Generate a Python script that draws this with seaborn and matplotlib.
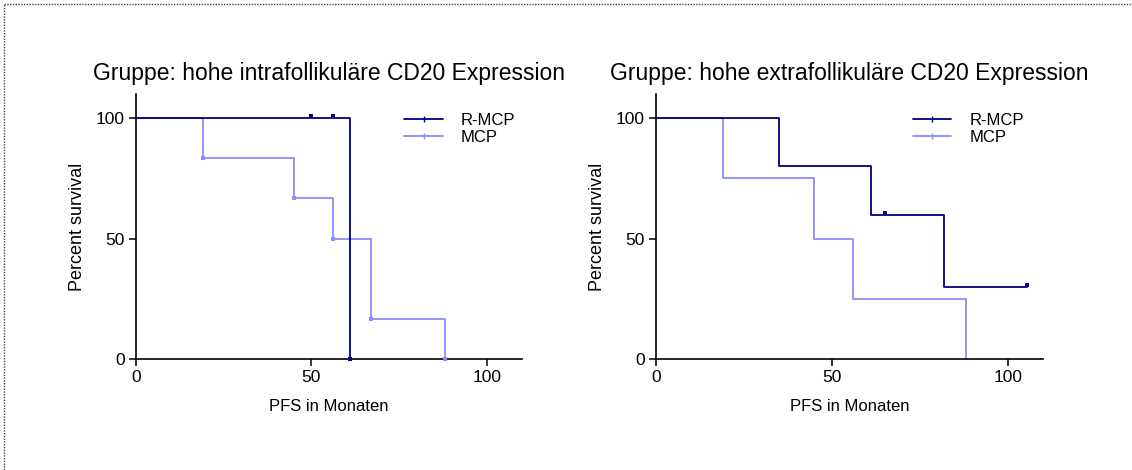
import matplotlib
matplotlib.use("Agg")
import matplotlib.pyplot as plt
import seaborn as sns
import pandas as pd
from matplotlib.lines import Line2D

# ---- data ----
titles = ["Gruppe: hohe intrafollikuläre CD20 Expression",
          "Gruppe: hohe extrafollikuläre CD20 Expression"]
groups = ["R-MCP", "MCP"]

# left panel
l_rmcp_t = [0, 50, 56, 61]
l_rmcp_s = [100, 100, 100, 0]
l_rmcp_cens_t = [50, 56]
l_rmcp_cens_s = [100, 100]
l_rmcp_evt_t = [61]
l_rmcp_evt_s = [0]

l_mcp_t = [0, 19, 45, 56, 67, 88]
l_mcp_s = [100, 83.3, 66.7, 50, 16.7, 0]

# right panel
r_rmcp_t = [0, 35, 61, 65, 82, 105.5]
r_rmcp_s = [100, 80, 60, 60, 30, 30]
r_rmcp_cens_t = [65, 105.5]
r_rmcp_cens_s = [60, 30]

r_mcp_t = [0, 19, 45, 56, 88]
r_mcp_s = [100, 75, 50, 25, 0]

x_ticks = [0, 50, 100]
y_ticks = [0, 50, 100]
x_label = "PFS in Monaten"
y_label = "Percent survival"

DARK = "#000080"
LIGHT = "#8C8CFF"

sns.set_style("ticks")
plt.rcParams["font.family"] = ["Liberation Sans", "DejaVu Sans"]
plt.rcParams["text.color"] = "black"
plt.rcParams["axes.labelcolor"] = "black"

fig = plt.figure(figsize=(11.32, 4.70), dpi=100)
W, H = 1132, 470
ax_h = (359.3 - 94) / H
ax_b = (470 - 359.3) / H
axes = [fig.add_axes([136 / W, ax_b, 386 / W, ax_h]),
        fig.add_axes([656 / W, ax_b, 387 / W, ax_h])]

panels = [
    dict(rt=l_rmcp_t, rs=l_rmcp_s, mt=l_mcp_t, ms=l_mcp_s,
         ct=l_rmcp_cens_t, cs=l_rmcp_cens_s, mark_mcp=True,
         et=l_rmcp_evt_t, es=l_rmcp_evt_s, leg_x=0.678),
    dict(rt=r_rmcp_t, rs=r_rmcp_s, mt=r_mcp_t, ms=r_mcp_s,
         ct=r_rmcp_cens_t, cs=r_rmcp_cens_s, mark_mcp=False,
         et=[], es=[], leg_x=0.647),
]

for ax, p, title in zip(axes, panels, titles):
    df_r = pd.DataFrame({"t": p["rt"], "s": p["rs"]})
    df_m = pd.DataFrame({"t": p["mt"], "s": p["ms"]})
    sns.lineplot(data=df_m, x="t", y="s", ax=ax, color=LIGHT, lw=1.3,
                 drawstyle="steps-post", sort=False, estimator=None, label=groups[1])
    sns.lineplot(data=df_r, x="t", y="s", ax=ax, color=DARK, lw=1.3,
                 drawstyle="steps-post", sort=False, estimator=None, label=groups[0])
    # censor marks
    sns.scatterplot(x=p["ct"], y=[v + 0.8 for v in p["cs"]], ax=ax, color=DARK,
                    marker="s", s=8, linewidth=0, zorder=5)
    if p["et"]:
        sns.scatterplot(x=p["et"], y=p["es"], ax=ax, color=DARK,
                        marker="s", s=8, linewidth=0, zorder=5, clip_on=False)
    if p["mark_mcp"]:
        sns.scatterplot(x=p["mt"][1:], y=p["ms"][1:], ax=ax, color=LIGHT,
                        marker="s", s=8, linewidth=0, zorder=5, clip_on=False)

    ax.set_xlim(0, 110)
    ax.set_ylim(0, 110)
    ax.set_xticks(x_ticks)
    ax.set_yticks(y_ticks)
    ax.tick_params(labelsize=12.5, length=5, width=1.1, colors="black", pad=3)
    for sp in ["top", "right"]:
        ax.spines[sp].set_visible(False)
    for sp in ["left", "bottom"]:
        ax.spines[sp].set_linewidth(1.2)
        ax.spines[sp].set_color("black")
    ax.set_xlabel(x_label, fontsize=12, labelpad=10)
    ax.set_ylabel(y_label, fontsize=13, labelpad=7)
    ax.set_title(title, fontsize=16.5, pad=10, color="black")

    handles = [Line2D([0], [0], color=DARK, lw=1.3, marker="|", markersize=4, markevery=[1]),
               Line2D([0], [0], color=LIGHT, lw=1.3, marker="|", markersize=4, markevery=[1])]
    for h in handles:
        h.set_xdata([0, 0.5, 1]); h.set_ydata([0, 0, 0])
    ax.legend(handles, groups, loc="upper left", bbox_to_anchor=(p["leg_x"], 0.955),
              frameon=False, fontsize=12, handlelength=2.3, handletextpad=1.1,
              labelspacing=0.15, borderaxespad=0)

# dotted border on left and top
fig.add_artist(Line2D([4 / W, 4 / W], [0, 1 - 4 / H], transform=fig.transFigure,
                      color="#444444", lw=1, linestyle=(0, (1, 1))))
fig.add_artist(Line2D([4 / W, 1], [1 - 4 / H, 1 - 4 / H], transform=fig.transFigure,
                      color="#444444", lw=1, linestyle=(0, (1, 1))))

fig.savefig("out.png", dpi=100)
